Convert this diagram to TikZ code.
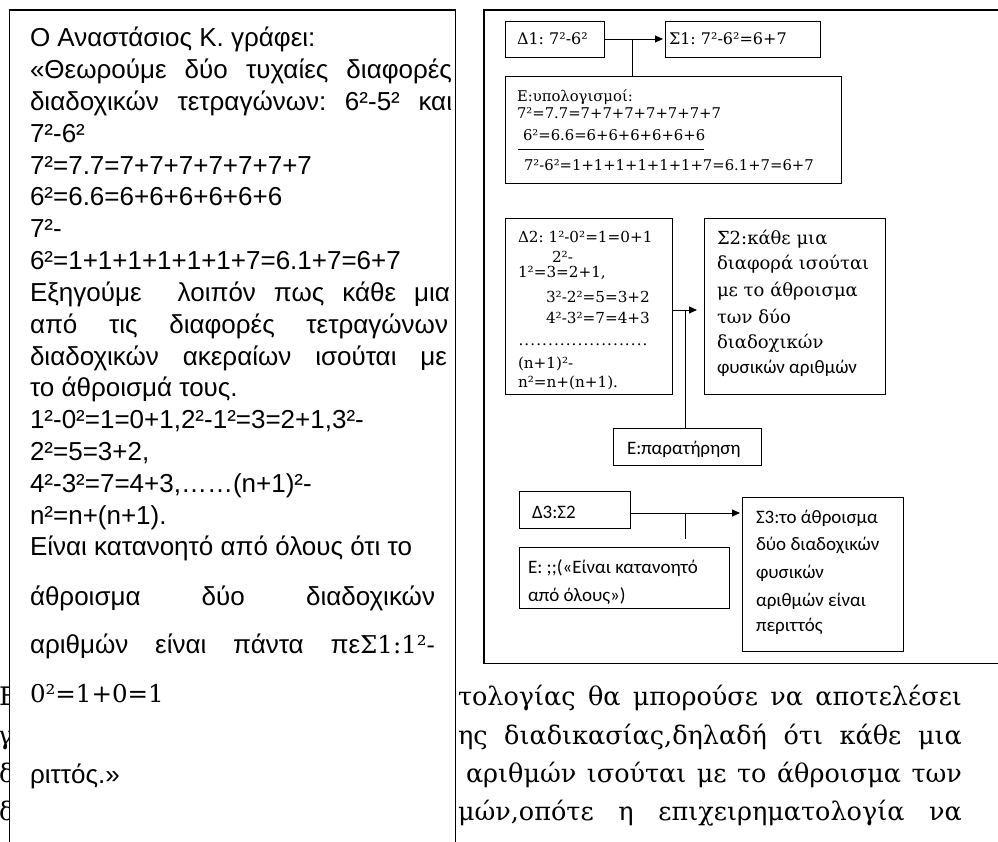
\documentclass[tikz,border=0pt]{standalone}
\usepackage{fontspec}
\setmainfont{Liberation Sans}
\newfontfamily\serf{DejaVu Serif}
\newfontfamily\calf{Carlito}
\usetikzlibrary{arrows.meta}
\frenchspacing

\begin{document}
\begin{tikzpicture}[x=1pt,y=-1pt,
  every node/.style={inner sep=0pt, outer sep=0pt},
  frame/.style={draw, line width=0.9pt, rectangle, anchor=north west},
  lft/.style={anchor=base west, font=\fontsize{26}{32}\selectfont},
  lfs/.style={anchor=base west, font=\serf\fontsize{24.5}{30}\selectfont},
  bgtext/.style={anchor=base west, font=\serf\fontsize{25.5}{30}\selectfont},
  srhead/.style={anchor=base west, font=\serf\fontsize{16}{19}\selectfont},
  sr/.style={anchor=base west, font=\serf\fontsize{15.2}{18}\selectfont},
  srcalc/.style={anchor=base west, font=\serf\fontsize{14.8}{18}\selectfont},
  srbig/.style={anchor=base west, font=\serf\fontsize{18}{21}\selectfont},
  cal/.style={anchor=base west, font=\calf\fontsize{19}{23}\selectfont},
  conn/.style={line width=0.9pt},
  arr/.style={conn, -{Triangle[length=8pt,width=7pt]}}
]
\useasboundingbox (0,0) rectangle (998,842);
\clip (0,0) rectangle (998,842);

% page text running behind the quoted box
\node[bgtext] (p1l) at (-1,705) {Ε};
\node[bgtext] (p2l) at (-2,744) {γ};
\node[bgtext] (p3l) at (-1,782) {δ};
\node[bgtext] (p4l) at (-1,820) {δ};
\node[bgtext] (p1r) at (458,705) {\makebox[504pt][s]{τολογίας θα μπορούσε να αποτελέσει}};
\node[bgtext] (p2r) at (458,744) {\makebox[504pt][s]{ης διαδικασίας,δηλαδή ότι κάθε μια}};
\node[bgtext] (p3r) at (466,782) {\makebox[496pt][s]{αριθμών ισούται με το άθροισμα των}};
\node[bgtext] (p4r) at (458,820) {\makebox[504pt][s]{μών,οπότε η επιχειρηματολογία να}};

% quoted box on the left
\node[draw, fill=white, line width=1.3pt, rectangle, anchor=north west,
      minimum width=446pt, minimum height=860pt] (quote) at (9.5,10) {};
\node[lft] (q01) at (30,47.0) {Ο Αναστάσιος Κ. γράφει:};
\node[lft] (q02) at (30,78.8) {\makebox[422pt][s]{«Θεωρούμε δύο τυχαίες διαφορές}};
\node[lft] (q03) at (30,110.6) {\makebox[422pt][s]{διαδοχικών τετραγώνων: 6²-5² και}};
\node[lft] (q04) at (30,142.4) {7²-6²};
\node[lft] (q05) at (30,174.2) {7²=7.7=7+7+7+7+7+7+7};
\node[lft] (q06) at (30,206.0) {6²=6.6=6+6+6+6+6+6};
\node[lft] (q07) at (30,237.8) {7²-};
\node[lft] (q08) at (30,269.6) {6²=1+1+1+1+1+1+7=6.1+7=6+7};
\node[lft] (q09) at (30,301.4) {\makebox[420pt][s]{Εξηγούμε~ λοιπόν πως κάθε μια}};
\node[lft] (q10) at (30,333.2) {\makebox[418pt][s]{από τις διαφορές τετραγώνων}};
\node[lft] (q11) at (30,365.0) {\makebox[417pt][s]{διαδοχικών ακεραίων ισούται με}};
\node[lft] (q12) at (30,396.8) {το άθροισμά τους.};
\node[lft] (q13) at (30,428.6) {1²-0²=1=0+1,2²-1²=3=2+1,3²-};
\node[lft] (q14) at (30,460.4) {2²=5=3+2,};
\node[lft] (q15) at (30,492.2) {4²-3²=7=4+3,……(n+1)²-};
\node[lft] (q16) at (30,524.0) {n²=n+(n+1).};
\node[lft] (q17) at (30,555.8) {Είναι κατανοητό από όλους ότι το};
\node[lft] (q18) at (30,605.5) {\makebox[405pt][s]{άθροισμα δύο διαδοχικών}};
\node[lft] (q19) at (30,653.5) {\makebox[405pt][s]{αριθμών είναι πάντα πε{\serf\fontsize{24.5}{30}\selectfont Σ1:1²-}}};
\node[lfs] (q20) at (30,702) {0²=1+0=1};
\node[lft] (q21) at (30,783.5) {ριττός.»};

% analysis box on the right
\node[draw, line width=1.8pt, rectangle, anchor=north west,
      minimum width=530pt, minimum height=653.5pt] (scheme) at (484,10) {};

% first step
\node[frame, minimum width=99pt, minimum height=36pt] (d1) at (505,21) {};
\node[srhead] (d1t) at (517,45) {Δ1: 7²-6²};
\node[frame, minimum width=155pt, minimum height=36pt] (s1) at (665,21) {};
\node[srhead] (s1t) at (669,45) {Σ1: 7²-6²=6+7};
\node[frame, minimum width=336pt, minimum height=107pt] (e1) at (505,76) {};
\node[srcalc] (e1a) at (517,102) {Ε:υπολογισμοί:};
\node[srcalc] (e1b) at (517,118.5) {7²=7.7=7+7+7+7+7+7+7};
\node[srcalc] (e1c) at (523,140.5) {6²=6.6=6+6+6+6+6+6};
\coordinate (barl) at (518,149);
\coordinate (barr) at (704,149);
\draw[line width=0.8pt] (barl) -- (barr);
\node[srcalc] (e1d) at (524,170.5) {7²-6²=1+1+1+1+1+1+7=6.1+7=6+7};
\draw[arr, shorten >=2pt] (d1.east) -- (s1.west);
\coordinate (j1) at (632,39);
\draw[conn] (j1) -- (j1 |- e1.north);

% second step
\node[frame, minimum width=167pt, minimum height=176pt] (d2) at (505,218) {};
\node[sr] (d2a) at (518,243) {Δ2: 1²-0²=1=0+1};
\node[sr] (d2b) at (552,262) {2²-};
\node[sr] (d2c) at (518,277) {1²=3=2+1,};
\node[sr] (d2d) at (546,302) {3²-2²=5=3+2};
\node[sr] (d2e) at (546,323) {4²-3²=7=4+3};
\node[sr] (d2f) at (518,345) {\hbox to 130pt{\xleaders\hbox to 5.9pt{\hss.\hss}\hfill}};
\node[sr] (d2g) at (518,368) {(n+1)²-};
\node[sr] (d2h) at (518,387) {n²=n+(n+1).};
\node[frame, minimum width=181pt, minimum height=176pt] (s2) at (704,218) {};
\node[srbig] (s2a) at (717,244.5) {Σ2:κάθε μια};
\node[srbig] (s2b) at (717,269.5) {διαφορά ισούται};
\node[srbig] (s2c) at (717,296.5) {με το άθροισμα};
\node[srbig] (s2d) at (717,323.5) {των δύο};
\node[srbig] (s2e) at (717,348.5) {διαδοχικών};
\node[cal] (s2f) at (717,373) {φυσικών αριθμών};
\node[frame, minimum width=148pt, minimum height=37pt] (e2) at (613,428) {};
\node[cal] (e2t) at (627,454) {Ε:παρατήρηση};
\coordinate (j2) at (685,310);
\coordinate (a2) at (672,310);
\draw[arr, shorten >=7pt] (a2) -- (a2 -| s2.west);
\draw[conn] (j2) -- (j2 |- e2.north);

% third step
\node[frame, minimum width=111pt, minimum height=37pt] (d3) at (519,491) {};
\node[cal] (d3t) at (532,518) {Δ3:Σ2};
\node[frame, minimum width=161pt, minimum height=154pt] (s3) at (742,497) {};
\node[cal] (s3a) at (756,523) {Σ3:το άθροισμα};
\node[cal] (s3b) at (756,550) {δύο διαδοχικών};
\node[cal] (s3c) at (756,578) {φυσικών};
\node[cal] (s3d) at (756,606) {αριθμών είναι};
\node[cal] (s3e) at (756,631) {περιττός};
\node[frame, minimum width=210pt, minimum height=61pt] (e3) at (519,547) {};
\node[cal] (e3a) at (528,573) {Ε: ;;(«Είναι κατανοητό};
\node[cal] (e3b) at (528,601) {από όλους»)};
\coordinate (a3) at (630,513);
\coordinate (j3) at (685,513);
\draw[arr, shorten >=2pt] (a3) -- (a3 -| s3.west);
\draw[conn, shorten >=8pt] (j3) -- (j3 |- e3.north);
\end{tikzpicture}
\end{document}
